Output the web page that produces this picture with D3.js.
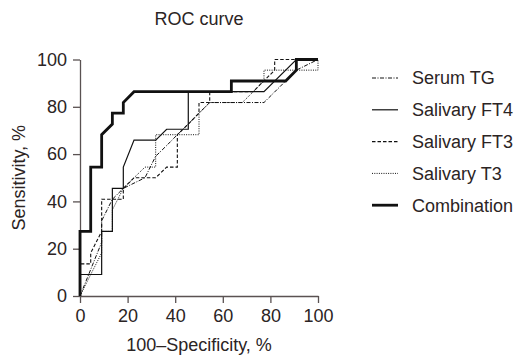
<!DOCTYPE html>
<html>
<head>
<meta charset="utf-8">
<script src="https://cdn.jsdelivr.net/npm/d3@7"></script>
<style>
  body { margin: 0; background: #fff; }
  svg { font-family: "Liberation Sans", Arial, sans-serif; }
  .axis path, .axis line { stroke: #5a5252; stroke-width: 1.3; }
  .axis text { font-size: 18px; fill: #2b2424; }
</style>
</head>
<body>
<div id="chart"></div>
<script>
// ROC points, [100 - specificity, sensitivity] in %
const serumTG = [[0,0],[9.1,22.7],[9.1,31.8],[13.6,40.9],[18.2,45.5],[27.3,50],[31.8,59.1],[36.4,63.6],[40.9,68.2],[45.5,72.7],[50,77.3],[54.5,81.8],[77.3,81.8],[86.4,90.9],[90.9,95.5],[100,100]];
const salivaryFT4 = [[0,0],[0,9.1],[9.1,9.1],[9.1,27.3],[13.6,27.3],[13.6,45.5],[18.2,45.5],[18.2,54.5],[22.7,65.9],[31.8,65.9],[36.4,70.5],[45.5,70.5],[45.5,86.4],[77.3,86.4],[90.9,100],[100,100]];
const salivaryFT3 = [[0,0],[0,13.6],[4.5,13.6],[4.5,18.2],[9.1,27.3],[9.1,40.9],[18.2,40.9],[18.2,45.5],[22.7,50],[31.8,50],[36.4,54.5],[40.9,54.5],[40.9,68.2],[45.5,72.7],[50,77.3],[50,81.8],[54.5,81.8],[54.5,86.4],[72.7,86.4],[81.8,95.5],[81.8,100],[100,100]];
const salivaryT3 = [[0,0],[4.5,9.1],[9.1,18.2],[9.1,27.3],[13.6,27.3],[13.6,36.4],[18.2,45.5],[22.7,50],[27.3,54.5],[31.8,54.5],[31.8,68.2],[50,68.2],[50,77.3],[54.5,81.8],[68.2,81.8],[77.3,90.9],[77.3,95.5],[100,95.5],[100,100]];
const combination = [[0,0],[0,27.3],[4.5,27.3],[4.5,54.5],[9.1,54.5],[9.1,68.2],[13.6,72.7],[13.6,77.3],[18.2,77.3],[18.2,81.8],[22.7,86.4],[63.6,86.4],[63.6,90.9],[86.4,90.9],[90.9,95.5],[90.9,100],[100,100]];

const seriesNames = ['Serum TG', 'Salivary FT4', 'Salivary FT3', 'Salivary T3', 'Combination'];
const seriesData = [serumTG, salivaryFT4, salivaryFT3, salivaryT3, combination];
const ticks = [0, 20, 40, 60, 80, 100];

// line looks per series
const dashes = ['4,1.5,1,1.5', null, '3.5,2', '1,1.3', null];
const widths = [1, 1.2, 1.1, 1, 2.8];

const width = 520, height = 358;
const margin = { top: 59.5, left: 80, right: 202, bottom: 62 };

const svg = d3.select('#chart').append('svg')
  .attr('width', width)
  .attr('height', height);

const x = d3.scaleLinear().domain([0, 100]).range([margin.left, width - margin.right]);
const y = d3.scaleLinear().domain([0, 100]).range([height - margin.bottom, margin.top]);

svg.append('g')
  .attr('class', 'axis axis-x')
  .attr('transform', `translate(0, ${y(0)})`)
  .call(d3.axisBottom(x).tickValues(ticks).tickSize(7).tickPadding(6).tickSizeOuter(0));

svg.append('g')
  .attr('class', 'axis axis-y')
  .attr('transform', `translate(${x(0)}, 0)`)
  .call(d3.axisLeft(y).tickValues(ticks).tickSize(7).tickPadding(6).tickSizeOuter(0));

svg.selectAll('.axis text').attr('font-family', null).attr('font-size', null);

const line = d3.line().x(d => x(d[0])).y(d => y(d[1]));

svg.append('g').attr('class', 'curves')
  .selectAll('path')
  .data(seriesData)
  .enter()
  .append('path')
  .attr('d', line)
  .attr('fill', 'none')
  .attr('stroke', '#111')
  .attr('stroke-width', (d, i) => widths[i])
  .attr('stroke-dasharray', (d, i) => dashes[i]);

// title + axis labels
svg.append('text')
  .attr('x', (x(0) + x(100)) / 2)
  .attr('y', 25)
  .attr('text-anchor', 'middle')
  .attr('font-size', 18)
  .attr('fill', '#2b2424')
  .text('ROC curve');

svg.append('text')
  .attr('x', (x(0) + x(100)) / 2)
  .attr('y', 351)
  .attr('text-anchor', 'middle')
  .attr('font-size', 18)
  .attr('fill', '#2b2424')
  .text('100–Specificity, %');

svg.append('text')
  .attr('transform', `translate(25, ${(y(0) + y(100)) / 2}) rotate(-90)`)
  .attr('text-anchor', 'middle')
  .attr('font-size', 18)
  .attr('fill', '#2b2424')
  .text('Sensitivity, %');

// legend
const legend = svg.append('g').attr('class', 'legend')
  .selectAll('g')
  .data(seriesNames)
  .enter()
  .append('g')
  .attr('transform', (d, i) => `translate(372, ${78 + i * 31.8})`);

legend.append('line')
  .attr('x1', 0).attr('x2', 26)
  .attr('stroke', '#111')
  .attr('stroke-width', (d, i) => widths[i])
  .attr('stroke-dasharray', (d, i) => dashes[i]);

legend.append('text')
  .attr('x', 40)
  .attr('dy', '0.35em')
  .attr('font-size', 18)
  .attr('fill', '#2b2424')
  .text(d => d);
</script>
</body>
</html>
